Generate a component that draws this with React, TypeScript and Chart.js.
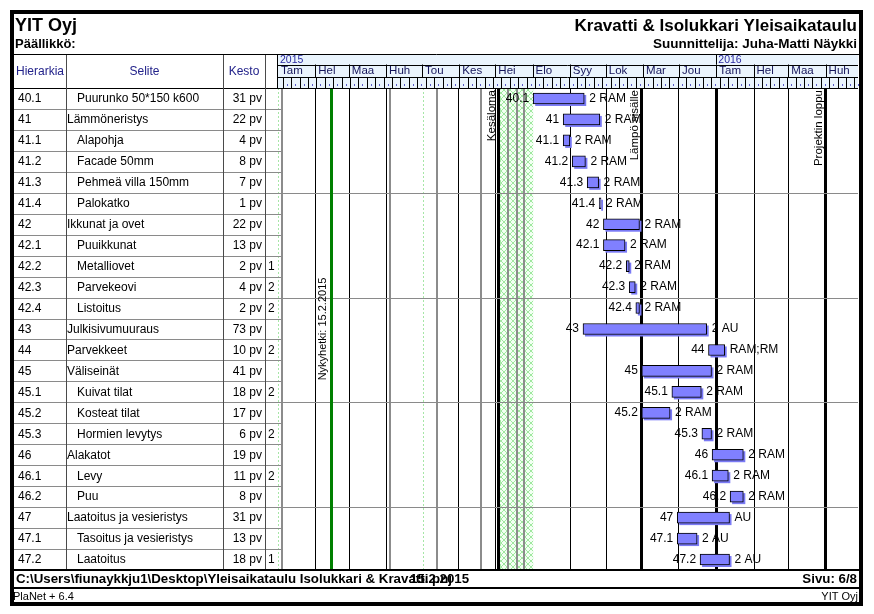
import React, { useEffect, useRef } from 'react';
import { Chart, registerables } from 'chart.js';

Chart.register(...registerables);

const FONT = '"Liberation Sans", Arial, Helvetica, sans-serif';
const NARROW = '"Liberation Sans Narrow", "Liberation Sans", Arial, sans-serif';

// ---- Data ----
const ids = ['40.1', '41', '41.1', '41.2', '41.3', '41.4', '42', '42.1', '42.2', '42.3', '42.4', '43', '44', '45', '45.1', '45.2', '45.3', '46', '46.1', '46.2', '47', '47.1', '47.2'];
const names = ['Puurunko 50*150 k600', 'Lämmöneristys', 'Alapohja', 'Facade 50mm', 'Pehmeä villa 150mm', 'Palokatko', 'Ikkunat ja ovet', 'Puuikkunat', 'Metalliovet', 'Parvekeovi', 'Listoitus', 'Julkisivumuuraus', 'Parvekkeet', 'Väliseinät', 'Kuivat tilat', 'Kosteat tilat', 'Hormien levytys', 'Alakatot', 'Levy', 'Puu', 'Laatoitus ja vesieristys', 'Tasoitus ja vesieristys', 'Laatoitus'];
const durations = ['31 pv', '22 pv', '4 pv', '8 pv', '7 pv', '1 pv', '22 pv', '13 pv', '2 pv', '4 pv', '2 pv', '73 pv', '10 pv', '41 pv', '18 pv', '17 pv', '6 pv', '19 pv', '11 pv', '8 pv', '31 pv', '13 pv', '18 pv'];
const extraCol = ['', '', '', '', '', '', '', '', '1', '2', '2', '', '2', '', '2', '', '2', '', '2', '', '', '', '1'];
// days counted from 1.1.2015
const startDays = [212.5, 237.5, 237.5, 245, 257.5, 267.5, 271, 271, 290, 292.5, 298, 254, 358.5, 303, 328, 303, 353, 361.5, 361.5, 376.5, 332.5, 332.5, 351.5];
const endDays = [255, 268, 243, 256, 267, 269, 301, 289, 292.5, 297.5, 301, 357, 372, 361, 352.5, 326.5, 361, 387.5, 375, 387.5, 376, 349, 376];
const resources = ['2 RAM', '2 RAM', '2 RAM', '2 RAM', '2 RAM', '2 RAM', '2 RAM', '2 RAM', '2 RAM', '2 RAM', '2 RAM', '2 AU', 'RAM;RM', '2 RAM', '2 RAM', '2 RAM', '2 RAM', '2 RAM', '2 RAM', '2 RAM', 'AU', '2 AU', '2 AU'];

const monthNames = ['Tam', 'Hel', 'Maa', 'Huh', 'Tou', 'Kes', 'Hei', 'Elo', 'Syy', 'Lok', 'Mar', 'Jou', 'Tam', 'Hel', 'Maa', 'Huh'];
const monthStarts = [0, 31, 59, 90, 120, 151, 181, 212, 243, 273, 304, 334, 365, 396, 425, 456];
const yearLabels = ['2015', '2016'];
const yearStarts = [0, 365];
const monthLineDays = [31, 59, 90, 150, 181, 243, 273, 333, 396, 425];
const milestoneDays = [183.5, 302.5, 365, 455.5];
const milestoneLabels = ['Kesäloma', 'Lämpö sisälle', '', 'Projektin loppu'];
const holidayDays = [3.5, 93.5, 132.5, 169, 191.7, 199.2, 205];
const greenDashDays = [0, 93.5, 121, 132.5, 185];
const vacationRange = [185, 212.5];
const todayDay = 44.5;
const todayLabel = 'Nykyhetki: 15.2.2015';
const weekStart = 4;
const xMax = 483;

const headerTexts = ['Hierarkia', 'Selite', 'Kesto'];
const titleLeft = 'YIT Oyj';
const subLeft = 'Päällikkö:';
const titleRight = 'Kravatti & Isolukkari Yleisaikataulu';
const subRight = 'Suunnittelija: Juha-Matti Näykki';
const footerPath = 'C:\\Users\\fiunaykkju1\\Desktop\\Yleisaikataulu Isolukkari & Kravatti.pnj';
const footerDate = '15.2.2015';
const footerPage = 'Sivu: 6/8';
const footerApp = 'PlaNet + 6.4';
const footerCompany = 'YIT Oyj';

function vline(ctx: CanvasRenderingContext2D, x: number, y0: number, y1: number, color: string, w: number, dash?: number[]) {
  ctx.save();
  ctx.strokeStyle = color;
  ctx.lineWidth = w;
  if (dash) ctx.setLineDash(dash);
  const xx = w % 2 === 1 ? Math.round(x) + 0.5 : Math.round(x);
  ctx.beginPath();
  ctx.moveTo(xx, y0);
  ctx.lineTo(xx, y1);
  ctx.stroke();
  ctx.restore();
}
function hline(ctx: CanvasRenderingContext2D, y: number, x0: number, x1: number, color: string, w: number) {
  ctx.save();
  ctx.strokeStyle = color;
  ctx.lineWidth = w;
  const yy = w % 2 === 1 ? Math.round(y) + 0.5 : Math.round(y);
  ctx.beginPath();
  ctx.moveTo(x0, yy);
  ctx.lineTo(x1, yy);
  ctx.stroke();
  ctx.restore();
}

function makeHatch(ctx: CanvasRenderingContext2D) {
  const c = document.createElement('canvas');
  c.width = 6;
  c.height = 6;
  const g = c.getContext('2d')!;
  g.fillStyle = '#f2fff2';
  g.fillRect(0, 0, 6, 6);
  g.strokeStyle = '#9fe89f';
  g.lineWidth = 1;
  g.beginPath();
  g.moveTo(0, 0);
  g.lineTo(6, 6);
  g.moveTo(6, 0);
  g.lineTo(0, 6);
  g.stroke();
  return ctx.createPattern(c, 'repeat');
}

const ganttPlugin = {
  id: 'gantt',
  beforeDraw(chart: any) {
    const ctx: CanvasRenderingContext2D = chart.ctx;
    ctx.save();
    ctx.fillStyle = '#ffffff';
    ctx.fillRect(0, 0, chart.width, chart.height);
    ctx.restore();
  },
  beforeDatasetsDraw(chart: any) {
    const ctx: CanvasRenderingContext2D = chart.ctx;
    const ca = chart.chartArea;
    const xs = chart.scales.x;
    const n = ids.length;
    const rowH = (ca.bottom - ca.top) / n;
    const px = (d: number) => xs.getPixelForValue(d);
    ctx.save();
    // vacation hatch
    const pat = makeHatch(ctx);
    if (pat) {
      ctx.fillStyle = pat;
      ctx.fillRect(px(vacationRange[0]), ca.top, px(vacationRange[1]) - px(vacationRange[0]), ca.bottom - ca.top);
    }
    // green dashed
    greenDashDays.forEach((d) => vline(ctx, px(d), ca.top, ca.bottom, '#a6e6a6', 1, [2, 2]));
    // holidays
    holidayDays.forEach((d) => vline(ctx, px(d), ca.top, ca.bottom, '#8c8c8c', 2));
    // month lines
    monthLineDays.forEach((d) => vline(ctx, px(d), ca.top, ca.bottom, '#000', 1));
    // milestones
    milestoneDays.forEach((d) => vline(ctx, px(d), ca.top, ca.bottom, '#000', 3));
    // group separators
    for (let k = 5; k < n; k += 5) {
      hline(ctx, ca.top + k * rowH, ca.left, ca.right, '#8a8a8a', 1);
    }
    // today
    vline(ctx, px(todayDay), ca.top, ca.bottom, '#008000', 3);
    // milestone labels
    ctx.fillStyle = '#000';
    ctx.font = `11.5px ${FONT}`;
    milestoneLabels.forEach((lab, i) => {
      if (!lab) return;
      ctx.save();
      ctx.translate(px(milestoneDays[i]) - 3, ca.top + 2);
      ctx.rotate(-Math.PI / 2);
      ctx.textAlign = 'right';
      ctx.textBaseline = 'alphabetic';
      ctx.fillText(lab, 0, 0);
      ctx.restore();
    });
    ctx.save();
    ctx.font = `11px ${FONT}`;
    ctx.translate(px(todayDay) - 5, (ca.top + ca.bottom) / 2);
    ctx.rotate(-Math.PI / 2);
    ctx.textAlign = 'center';
    ctx.textBaseline = 'alphabetic';
    ctx.fillText(todayLabel, 0, 0);
    ctx.restore();
    // bar shadows
    const meta = chart.getDatasetMeta(0);
    ctx.fillStyle = '#7a7af5';
    meta.data.forEach((el: any) => {
      const p = el.getProps(['x', 'y', 'base', 'height'], true);
      const l = Math.min(p.x, p.base);
      const w = Math.abs(p.x - p.base);
      ctx.fillRect(l + 2, p.y - p.height / 2 + 2, w, p.height);
    });
    ctx.restore();
  },
  afterDatasetsDraw(chart: any) {
    const ctx: CanvasRenderingContext2D = chart.ctx;
    const meta = chart.getDatasetMeta(0);
    ctx.save();
    ctx.fillStyle = '#000';
    ctx.font = `12px ${FONT}`;
    ctx.textBaseline = 'middle';
    meta.data.forEach((el: any, i: number) => {
      const p = el.getProps(['x', 'y', 'base'], true);
      const l = Math.min(p.x, p.base);
      const r = Math.max(p.x, p.base);
      ctx.textAlign = 'right';
      ctx.fillText(ids[i], l - 4, p.y);
      ctx.textAlign = 'left';
      ctx.fillText(resources[i], r + 5, p.y);
    });
    ctx.restore();
  },
  afterDraw(chart: any) {
    const ctx: CanvasRenderingContext2D = chart.ctx;
    const ca = chart.chartArea;
    const xs = chart.scales.x;
    const n = ids.length;
    const rowH = (ca.bottom - ca.top) / n;
    const px = (d: number) => xs.getPixelForValue(d);
    ctx.save();

    // ---- timeline header ----
    const hTop = 54, yRow = 64.5, mRow = 77, hBot = ca.top;
    ctx.fillStyle = '#eaf4fd';
    ctx.fillRect(ca.left - 1, hTop, ca.right - ca.left + 1, hBot - hTop);
    hline(ctx, yRow, ca.left - 1, ca.right, '#000', 1);
    hline(ctx, mRow, ca.left - 1, ca.right, '#000', 1);
    vline(ctx, ca.left - 1, hTop, hBot, '#000', 1);
    // years
    ctx.font = `10.5px ${FONT}`;
    ctx.fillStyle = '#2a2aa0';
    ctx.textBaseline = 'middle';
    ctx.textAlign = 'left';
    yearLabels.forEach((y, i) => {
      const x = px(yearStarts[i]);
      if (i > 0) vline(ctx, x, hTop, yRow, '#000', 1);
      ctx.fillText(y, x + 2, (hTop + yRow) / 2 + 0.5);
    });
    // months
    ctx.font = `11.5px ${FONT}`;
    ctx.fillStyle = '#14145a';
    monthNames.forEach((m, i) => {
      const x = px(monthStarts[i]);
      if (i > 0) vline(ctx, x, yRow, mRow, '#000', 1);
      ctx.fillText(m, x + 3, (yRow + mRow) / 2 + 0.5);
    });
    // weeks
    for (let d = weekStart; d < xMax; d += 7) {
      const x = px(d);
      vline(ctx, x, mRow, hBot, '#000', 1);
      ctx.fillStyle = '#5a5ac8';
      ctx.fillRect(Math.round(x + 4), hBot - 4, 1, 2);
    }
    hline(ctx, hBot, 12, ca.right, '#000', 1);

    // ---- table ----
    for (let k = 1; k < n; k++) {
      hline(ctx, ca.top + k * rowH, 12, ca.left + 3, '#8a8a8a', 1);
    }
    [66, 223, 265].forEach((x) => vline(ctx, x, hTop, ca.bottom, '#4a4a4a', 1));
    ctx.font = `12px ${FONT}`;
    ctx.fillStyle = '#22228a';
    ctx.textBaseline = 'middle';
    const hy = (hTop + hBot) / 2 + 0.5;
    ctx.textAlign = 'left';
    ctx.fillText(headerTexts[0], 16, hy);
    ctx.textAlign = 'center';
    ctx.fillText(headerTexts[1], 144.5, hy);
    ctx.fillText(headerTexts[2], 244, hy);
    ctx.fillStyle = '#000';
    ids.forEach((id, i) => {
      const cy = ca.top + (i + 0.5) * rowH + 0.5;
      ctx.textAlign = 'left';
      ctx.fillText(id, 18, cy);
      ctx.fillText(names[i], id.includes('.') ? 77 : 67, cy);
      ctx.textAlign = 'right';
      ctx.fillText(durations[i], 262, cy);
      ctx.textAlign = 'left';
      if (extraCol[i]) ctx.fillText(extraCol[i], 268, cy);
    });

    // ---- titles ----
    ctx.fillStyle = '#000';
    ctx.textBaseline = 'alphabetic';
    ctx.textAlign = 'left';
    ctx.font = `bold 18px ${FONT}`;
    ctx.fillText(titleLeft, 15, 31);
    ctx.font = `bold 13px ${FONT}`;
    ctx.fillText(subLeft, 15, 48);
    ctx.textAlign = 'right';
    ctx.font = `bold 17px ${FONT}`;
    ctx.fillText(titleRight, 857, 31);
    ctx.font = `bold 13.5px ${FONT}`;
    ctx.fillText(subRight, 857, 48);
    hline(ctx, hTop, 12, 861, '#000', 1);

    // ---- footer ----
    hline(ctx, ca.bottom, 12, 861, '#000', 2);
    hline(ctx, 588, 12, 861, '#000', 2);
    ctx.textBaseline = 'middle';
    ctx.textAlign = 'left';
    ctx.font = `bold 13.3px ${FONT}`;
    ctx.fillText(footerPath, 16, 579.5);
    ctx.fillText(footerDate, 410, 579.5);
    ctx.textAlign = 'right';
    ctx.fillText(footerPage, 857, 579.5);
    ctx.font = `11px ${NARROW}`;
    ctx.textAlign = 'left';
    ctx.fillText(footerApp, 13, 596.5);
    ctx.textAlign = 'right';
    ctx.fillText(footerCompany, 858, 596.5);

    // ---- frame ----
    ctx.strokeStyle = '#000';
    ctx.lineWidth = 4;
    ctx.strokeRect(12, 12, 849, 592);
    ctx.restore();
  },
};

export default function App() {
  const ref = useRef<HTMLCanvasElement>(null);
  useEffect(() => {
    const canvas = ref.current;
    if (!canvas) return;
    const chart = new Chart(canvas, {
      type: 'bar',
      data: {
        labels: ids,
        datasets: [
          {
            data: startDays.map((s, i) => [s, endDays[i]]) as any,
            backgroundColor: '#8080ff',
            borderColor: '#000000',
            borderWidth: 1,
            borderSkipped: false,
            barThickness: 11,
          } as any,
        ],
      },
      options: {
        animation: false,
        responsive: false,
        indexAxis: 'y',
        events: [],
        layout: { padding: { left: 278, right: 16, top: 88, bottom: 44 } },
        plugins: { legend: { display: false }, tooltip: { enabled: false } },
        scales: {
          x: { type: 'linear', min: 0, max: xMax, display: false },
          y: { type: 'category', display: false, offset: true },
        },
      } as any,
      plugins: [ganttPlugin],
    });
    return () => chart.destroy();
  }, []);
  return (
    <div style={{ position: 'absolute', left: 0, top: 0, width: 874, height: 614, background: '#fff' }}>
      <canvas ref={ref} width={874} height={614} style={{ display: 'block', width: 874, height: 614 }} />
    </div>
  );
}
